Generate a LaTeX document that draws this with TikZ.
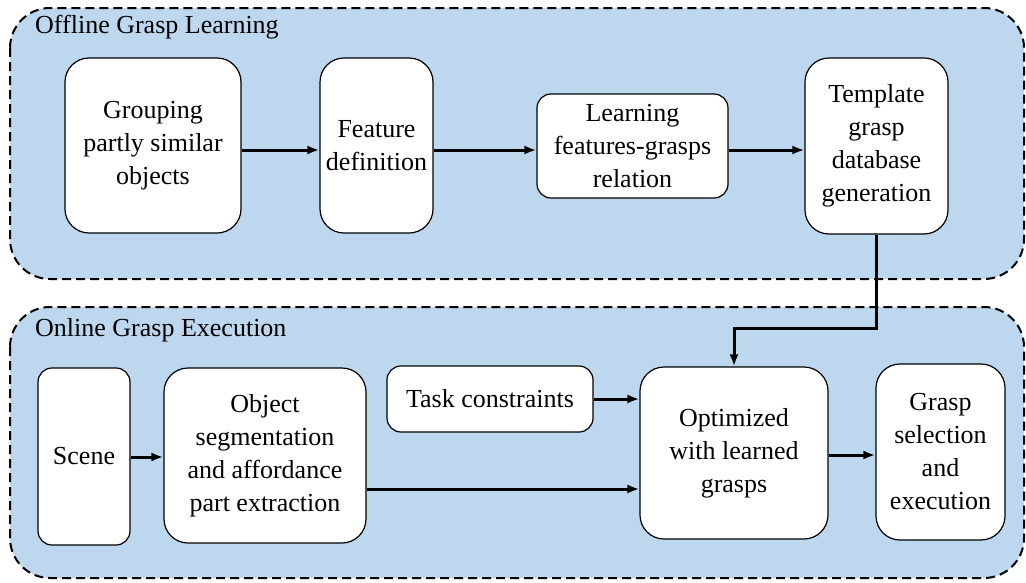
\documentclass[tikz,border=0pt]{standalone}
\usepackage{fontspec}
\setmainfont{Liberation Serif}
\usetikzlibrary{arrows.meta}
\definecolor{panelblue}{RGB}{189,215,238}
\tikzset{
  panel/.style={draw=black, fill=panelblue, line width=2pt, dash pattern=on 9pt off 5pt, rounded corners=40pt},
  paneltitle/.style={anchor=west, font=\fontsize{26}{30}\selectfont, inner sep=0pt},
  stage/.style={draw=black, fill=white, line width=1.2pt, rounded corners=24pt, align=center,
    font=\fontsize{26}{33}\selectfont, inner sep=0pt},
  smallstage/.style={stage, rounded corners=14pt},
  flow/.style={line width=3pt, -{Latex[length=12pt,width=9pt]}}
}
\begin{document}
\begin{tikzpicture}[x=1pt,y=-1pt]
\useasboundingbox (0,0) rectangle (1026,582);

% the two phases
\draw[panel] (10,8) rectangle (1024,279);
\draw[panel] (10,307) rectangle (1024,578);
\node[paneltitle] (offt) at (35,27) {Offline Grasp Learning};
\node[paneltitle] (onlt) at (35,330) {Online Grasp Execution};

% offline stages
\node[stage, minimum width=176pt, minimum height=175pt] (grp) at (153,145.5) {Grouping\\partly similar\\objects};
\node[stage, minimum width=113pt, minimum height=175pt] (feat) at (376.5,145.5) {Feature\\definition};
\node[smallstage, minimum width=191pt, minimum height=104pt] (learn) at (632.5,146) {Learning\\features-grasps\\relation};
\node[stage, minimum width=143pt, minimum height=176pt] (tmpl) at (876.5,146) {Template\\grasp\\database\\generation};

% online stages
\node[smallstage, minimum width=92pt, minimum height=177pt] (scene) at (84,456.5) {Scene};
\node[stage, minimum width=202pt, minimum height=175pt] (seg) at (265,455.5) {Object\\segmentation\\and affordance\\part extraction};
\node[smallstage, minimum width=206pt, minimum height=66pt] (task) at (490,399) {Task constraints};
\node[stage, minimum width=188pt, minimum height=172pt] (opt) at (734,453) {Optimized\\with learned\\grasps};
\node[stage, minimum width=129pt, minimum height=176pt] (sel) at (940.5,452) {Grasp\\selection\\and\\execution};

% connections
\draw[flow] ([yshift=-4.5pt]grp.east) -- ([yshift=-4.5pt]feat.west);
\draw[flow] ([yshift=-4.5pt]feat.east) -- ([yshift=-4pt]learn.west);
\draw[flow] ([yshift=-4pt]learn.east) -- ([yshift=-4pt]tmpl.west);
\draw[flow] (tmpl.south) -- ++(0,94) -| (opt.north);
\draw[flow] ([yshift=-0.5pt]scene.east) -- ([yshift=-1.5pt]seg.west);
\draw[flow] (task.east) -- (task.east -| opt.west);
\draw[flow] ([yshift=-33.5pt]seg.east) -- ([yshift=-33.5pt]seg.east -| opt.west);
\draw[flow] ([yshift=-2pt]opt.east) -- ([yshift=-2pt]opt.east -| sel.west);
\end{tikzpicture}
\end{document}
